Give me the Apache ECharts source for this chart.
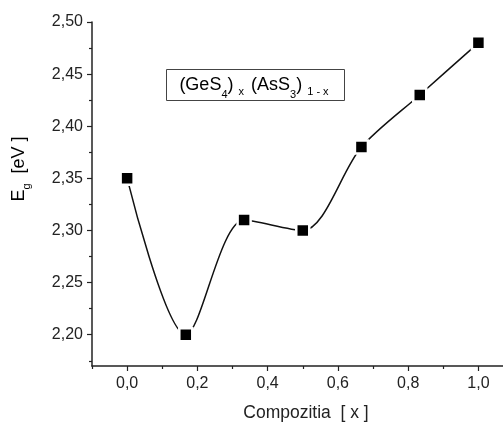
<!DOCTYPE html>
<html>
<head>
<meta charset="utf-8">
<script src="https://cdn.jsdelivr.net/npm/echarts@6/dist/echarts.min.js"></script>
<style>
  html, body { margin: 0; padding: 0; background: #fff; }
  #chart { width: 503px; height: 424px; }
</style>
</head>
<body>
<div id="chart"></div>
<script>
// composition x and band gap Eg (eV)
const compX = [0, 0.167, 0.333, 0.5, 0.667, 0.833, 1.0];
const gapEg = [2.35, 2.20, 2.31, 2.30, 2.38, 2.43, 2.48];

const xMajor = [0, 0.2, 0.4, 0.6, 0.8, 1.0];
const xMinor = [-0.1, 0.1, 0.3, 0.5, 0.7, 0.9];
const yMajor = [2.20, 2.25, 2.30, 2.35, 2.40, 2.45, 2.50];
const yMinor = [2.175, 2.225, 2.275, 2.325, 2.375, 2.425, 2.475];

const FONT = '"Liberation Sans", Arial, sans-serif';
const INK = '#222';

const chart = echarts.init(document.getElementById('chart'));

const fmtX = v => v.toFixed(1).replace('.', ',');
const fmtY = v => v.toFixed(2).replace('.', ',');

const baseAxisLine = { show: true, onZero: false, lineStyle: { color: INK, width: 1.5 } };

let option = {
  animation: false,
  backgroundColor: '#fff',
  grid: { left: 92, top: 22, right: 0, bottom: 58 },
  xAxis: [
    {
      type: 'value', min: -0.1, max: 1.07,
      axisLine: baseAxisLine,
      axisTick: { show: true, customValues: xMajor, length: 5, lineStyle: { color: INK, width: 1.2 } },
      axisLabel: { customValues: xMajor, formatter: fmtX, fontFamily: FONT, fontSize: 16, color: INK, margin: 10 },
      splitLine: { show: false }
    },
    {
      type: 'value', min: -0.1, max: 1.07, position: 'bottom',
      axisLine: { show: false, onZero: false },
      axisTick: { show: true, customValues: xMinor, length: 3, lineStyle: { color: INK, width: 1.2 } },
      axisLabel: { show: false },
      splitLine: { show: false }
    }
  ],
  yAxis: [
    {
      type: 'value', min: 2.17, max: 2.50,
      axisLine: baseAxisLine,
      axisTick: { show: true, customValues: yMajor, length: 5, lineStyle: { color: INK, width: 1.2 } },
      axisLabel: { customValues: yMajor, formatter: fmtY, fontFamily: FONT, fontSize: 16, color: INK, margin: 9 },
      splitLine: { show: false }
    },
    {
      type: 'value', min: 2.17, max: 2.50, position: 'left',
      axisLine: { show: false, onZero: false },
      axisTick: { show: true, customValues: yMinor, length: 3, lineStyle: { color: INK, width: 1.2 } },
      axisLabel: { show: false },
      splitLine: { show: false }
    }
  ],
  series: [
    {
      type: 'line',
      xAxisIndex: 0,
      yAxisIndex: 0,
      data: compX.map((x, i) => [x, gapEg[i]]),
      smooth: 0.3,
      symbol: 'rect',
      symbolSize: 13,
      lineStyle: { color: '#111', width: 1.5 },
      itemStyle: { color: '#000', borderColor: '#fff', borderWidth: 2.5 },
      z: 3
    }
  ],
  graphic: [
    {
      type: 'rect',
      shape: { x: 166.5, y: 69.5, width: 178, height: 31 },
      style: { fill: '#fff', stroke: '#444', lineWidth: 1 }
    },
    {
      type: 'text',
      x: 255, y: 85,
      style: {
        text: '{m|(GeS}{a|4}{m|)}{b| x}{m| (AsS}{a|3}{m|)}{b| 1 - x}',
        align: 'center', verticalAlign: 'middle',
        rich: {
          m: { fontFamily: FONT, fontSize: 18, color: INK, lineHeight: 30, verticalAlign: 'middle' },
          a: { fontFamily: FONT, fontSize: 11, color: INK, lineHeight: 12, verticalAlign: 'bottom' },
          b: { fontFamily: FONT, fontSize: 11, color: INK, lineHeight: 12, verticalAlign: 'bottom', padding: [0, 2, 3, 2] }
        }
      }
    },
    {
      type: 'text',
      x: 19, y: 169,
      rotation: Math.PI / 2,
      style: {
        text: '{m|E}{s|g}{m|  [eV ]}',
        align: 'center', verticalAlign: 'middle',
        rich: {
          m: { fontFamily: FONT, fontSize: 18, color: INK, lineHeight: 26, verticalAlign: 'middle' },
          s: { fontFamily: FONT, fontSize: 11, color: INK, lineHeight: 12, verticalAlign: 'bottom' }
        }
      }
    },
    {
      type: 'text',
      x: 306, y: 413,
      style: {
        text: 'Compozitia  [ x ]',
        fontFamily: FONT, fontSize: 17.5, fill: INK,
        align: 'center', verticalAlign: 'middle'
      }
    }
  ]
};

option && chart.setOption(option);
</script>
</body>
</html>
